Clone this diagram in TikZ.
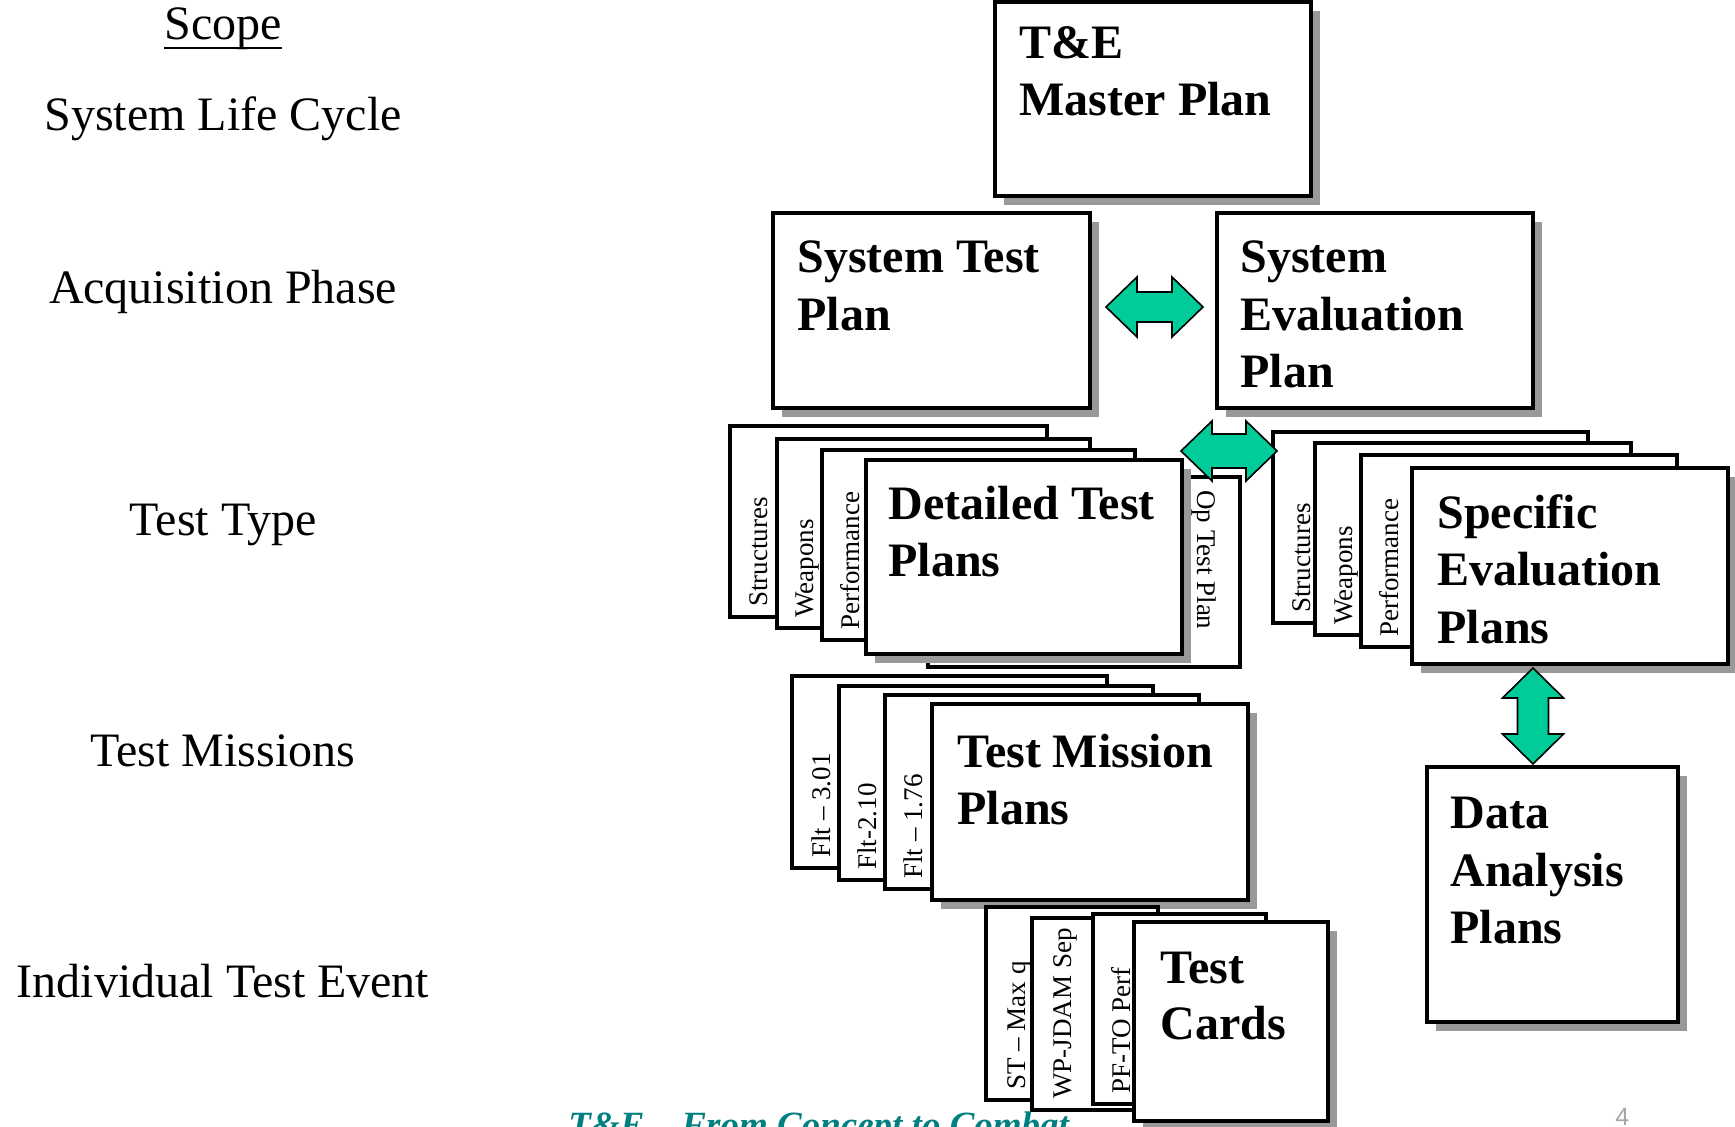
\documentclass[tikz,border=0pt]{standalone}
\usepackage{fontspec}
\setmainfont{Liberation Serif}
\newfontfamily\numfont{Liberation Sans}
\usetikzlibrary{shadows,calc}
\definecolor{arrowgreen}{HTML}{00CC99}
\definecolor{footteal}{HTML}{008080}
\definecolor{pagegray}{HTML}{A6A6A6}
\newcommand{\mkcard}[6][]{%
  \pgfmathsetmacro\cw{(#5-#3)*0.5}%
  \pgfmathsetmacro\ch{(#6-#4)*0.5}%
  \node[cardbox,#1,anchor=north west,minimum width=\cw pt,minimum height=\ch pt] (#2) at (#3,#4) {};}
\tikzset{
  cardbox/.style={draw=black,fill=white,line width=2.25pt,inner sep=0pt,outer sep=0pt},
  shadowed/.style={general shadow={fill=black!40,shadow xshift=4.5pt,shadow yshift=-4.5pt}},
  bigtxt/.style={font=\fontsize{24}{28}\selectfont\bfseries,anchor=base west,inner sep=0pt},
  sidetxt/.style={font=\fontsize{24}{29}\selectfont,anchor=base,inner sep=0pt},
  vtxt/.style={font=\fontsize{13.5}{16}\selectfont,anchor=base west,inner sep=0pt,rotate=90},
  vtxtdown/.style={font=\fontsize{13.5}{16}\selectfont,anchor=base west,inner sep=0pt,rotate=-90},
  garrow/.style={draw=black,line width=0.8pt,fill=arrowgreen,line join=miter}
}
\begin{document}
\begin{tikzpicture}[x=0.5pt,y=-0.5pt]
\useasboundingbox (0,0) rectangle (1735,1127);
\clip (0,0) rectangle (1735,1127);
\fill[white] (0,0) rectangle (1735,1127);

% ---- left scope labels
\node[sidetxt] (scope) at (223,40) {Scope};
\draw[line width=1.2pt] ($(scope.base west)+(0,8)$) -- ($(scope.base east)+(0,8)$);
\node[sidetxt] (slc) at (223,131) {System Life Cycle};
\node[sidetxt] (acq) at (223,304) {Acquisition Phase};
\node[sidetxt] (ttype) at (223,536) {Test Type};
\node[sidetxt] (tmis) at (223,767) {Test Missions};
\node[sidetxt] (ite) at (223,997) {Individual Test Event};

% ---- top level
\mkcard[shadowed]{tem}{995}{2}{1311}{196}
\node[bigtxt] (tem-a) at (1019,59) {T\&E};
\node[bigtxt] (tem-b) at (1019,116) {Master Plan};

\mkcard[shadowed]{stp}{773}{213}{1090}{408}
\node[bigtxt] (stp-a) at (797,273) {System Test};
\node[bigtxt] (stp-b) at (797,331) {Plan};

\mkcard[shadowed]{sep}{1217}{213}{1533}{408}
\node[bigtxt] (sep-a) at (1240,273) {System};
\node[bigtxt] (sep-b) at (1240,331) {Evaluation};
\node[bigtxt] (sep-c) at (1240,388) {Plan};

\coordinate (a1l) at (1106,307);
\draw[garrow] (a1l) -- ++(31,-30) -- ++(0,15) -- ++(35,0) -- ++(0,-15) -- ++(31,30)
  -- ++(-31,30) -- ++(0,-15) -- ++(-35,0) -- ++(0,15) -- cycle;

% ---- detailed test plans stack
\mkcard{op}{928}{477}{1240}{667}
\node[vtxtdown] (op-t) at (1197,490) {Op Test Plan};
\mkcard{dS}{730}{426}{1047}{617}
\node[vtxt] (dS-t) at (767,607) {Structures};
\mkcard{dW}{777}{439}{1090}{628}
\node[vtxt] (dW-t) at (813,618) {Weapons};
\mkcard{dP}{822}{450}{1135}{640}
\node[vtxt] (dP-t) at (859,630) {Performance};
\mkcard[shadowed]{dtp}{866}{460}{1182}{654}
\node[bigtxt] (dtp-a) at (888,520) {Detailed Test};
\node[bigtxt] (dtp-b) at (888,577) {Plans};

% ---- specific evaluation plans stack
\mkcard{eS}{1273}{432}{1588}{623}
\node[vtxt] (eS-t) at (1310,613) {Structures};
\mkcard{eW}{1315}{443}{1631}{635}
\node[vtxt] (eW-t) at (1352,625) {Weapons};
\mkcard{eP}{1361}{455}{1677}{647}
\node[vtxt] (eP-t) at (1398,637) {Performance};
\mkcard[shadowed]{sev}{1412}{468}{1728}{664}
\node[bigtxt] (sev-a) at (1437,529) {Specific};
\node[bigtxt] (sev-b) at (1437,586) {Evaluation};
\node[bigtxt] (sev-c) at (1437,644) {Plans};

\coordinate (a3l) at (1181,451);
\draw[garrow] (a3l) -- ++(31,-30) -- ++(0,13) -- ++(34,0) -- ++(0,-13) -- ++(31,30)
  -- ++(-31,30) -- ++(0,-13) -- ++(-34,0) -- ++(0,13) -- cycle;

% ---- test mission plans stack
\mkcard{m1}{792}{676}{1107}{868}
\node[vtxt] (m1-t) at (830,858) {Flt – 3.01};
\mkcard{m2}{839}{686}{1153}{880}
\node[vtxt] (m2-t) at (876,870) {Flt-2.10};
\mkcard{m3}{885}{695}{1199}{889}
\node[vtxt] (m3-t) at (922,879) {Flt – 1.76};
\mkcard[shadowed]{tmp}{932}{704}{1248}{900}
\node[bigtxt] (tmp-a) at (957,768) {Test Mission};
\node[bigtxt] (tmp-b) at (957,825) {Plans};

% ---- test cards stack
\mkcard{c1}{986}{907}{1158}{1100}
\node[vtxt] (c1-t) at (1025,1090) {ST – Max q};
\mkcard{c2}{1032}{918}{1205}{1110}
\node[vtxt] (c2-t) at (1071,1099) {WP-JDAM Sep};
\mkcard{c3}{1093}{914}{1266}{1104}
\node[vtxt] (c3-t) at (1130,1094) {PF-TO Perf};
\mkcard[shadowed]{tc}{1134}{922}{1328}{1121}
\node[bigtxt] (tc-a) at (1160,983) {Test};
\node[bigtxt] (tc-b) at (1160,1039) {Cards};

% ---- data analysis plans
\coordinate (a2t) at (1533,668);
\draw[garrow] (a2t) -- ++(-30.5,30) -- ++(15,0) -- ++(0,36) -- ++(-15,0) -- ++(30.5,30)
  -- ++(30.5,-30) -- ++(-15,0) -- ++(0,-36) -- ++(15,0) -- cycle;
\mkcard[shadowed]{dap}{1427}{767}{1678}{1022}
\node[bigtxt] (dap-a) at (1450,828) {Data};
\node[bigtxt] (dap-b) at (1450,886) {Analysis};
\node[bigtxt] (dap-c) at (1450,943) {Plans};

% ---- footer (cut by the lower edge, as in the slide)
\node[anchor=base west,inner sep=0pt,text=footteal,font=\fontsize{18.5}{22}\selectfont\bfseries\itshape] (foot) at (568,1137) {T\&E – From Concept to Combat};
\node[anchor=base west,inner sep=0pt,text=pagegray,font=\fontsize{12.5}{15}\selectfont\numfont] (pnum) at (1615,1125) {4};
\end{tikzpicture}
\end{document}
